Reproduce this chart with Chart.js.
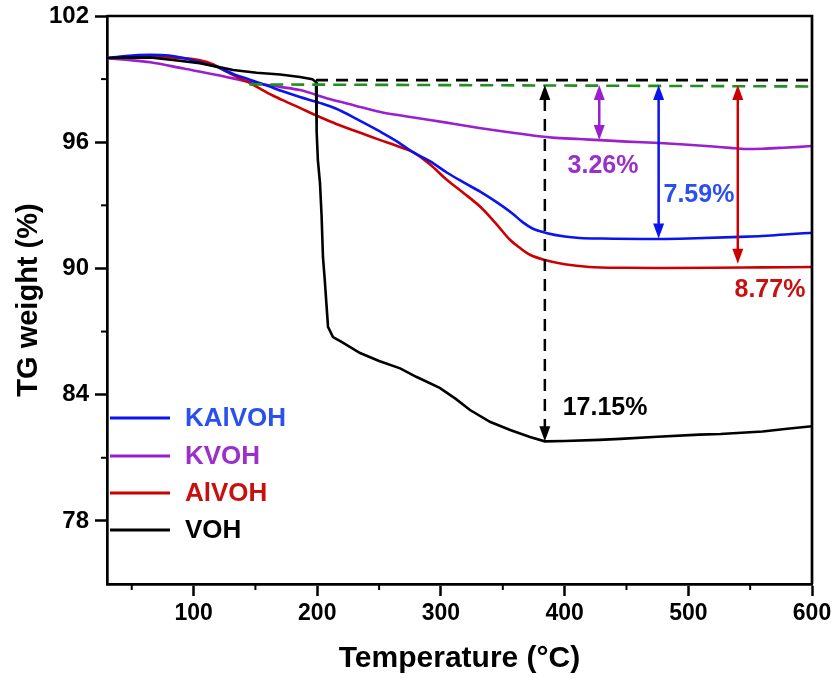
<!DOCTYPE html>
<html><head><meta charset="utf-8">
<script src="https://cdn.jsdelivr.net/npm/chart.js@4.4.0/dist/chart.umd.min.js"></script>
<style>html,body{margin:0;padding:0;background:#fff;overflow:hidden}</style>
</head><body>
<canvas id="c" width="837" height="681"></canvas>
<script>
// ---------------- data ----------------
const tKAlVOH = [30,45,65,80,92,105,119,132,146,160,172,186,202,215,232,251,265,277,291,305,318,332,345,358,366,374,385,400,412,430,477,500,542,570,600];
const wKAlVOH = [100,100.1,100.15,100.12,100.0,99.8,99.58,99.25,98.96,98.68,98.42,98.15,97.87,97.6,97.1,96.5,96.02,95.54,95.1,94.55,94.1,93.64,93.15,92.6,92.2,91.9,91.69,91.52,91.45,91.42,91.4,91.42,91.5,91.58,91.7];

const tKVOH = [30,45,65,92,119,146,170,186,210,230,251,270,291,310,331,352,372,390,412,428,450,477,500,520,534,546,560,574,590,600];
const wKVOH = [100,99.92,99.8,99.5,99.2,98.86,98.63,98.48,98.05,97.75,97.44,97.25,97.06,96.88,96.68,96.5,96.34,96.22,96.15,96.1,96.03,95.96,95.88,95.8,95.73,95.68,95.69,95.73,95.78,95.82];

const tAlVOH = [30,45,65,85,105,116,127,137,146,155,164,175,186,197,210,224,237,251,264,277,291,305,318,332,345,356,364,372,384,400,420,450,477,520,560,600];
const wAlVOH = [100,100.02,100.05,100.02,99.9,99.7,99.34,99.05,98.8,98.5,98.22,97.92,97.63,97.33,97.0,96.68,96.4,96.1,95.83,95.54,94.95,94.2,93.6,92.92,92.1,91.35,90.97,90.65,90.4,90.2,90.07,90.03,90.02,90.03,90.05,90.07];

const tVOH = [30,45,65,85,105,132,151,170,186,196,199,199.5,200.5,202.2,203.5,204.6,206,208.7,212.7,220,234.6,250,267,280,299,312,323.5,340,356,372,384,400,428,445,475,509,526,560,580,600];
const wVOH = [100,100.02,100.03,99.9,99.76,99.43,99.3,99.22,99.1,99.0,98.86,96.5,95.15,94.06,92.5,90.55,89.5,87.22,86.74,86.5,85.98,85.6,85.25,84.85,84.32,83.8,83.27,82.7,82.32,81.99,81.78,81.8,81.85,81.9,82.0,82.1,82.13,82.25,82.38,82.5];

// reference (dashed) lines
const tBlackRef = [199,600];   const wBlackRef = [98.95,98.95];
const tGreenRef = [145,600];   const wGreenRef = [98.75,98.65];

// mass-loss arrows
const arrowT      = [384, 428, 476, 540];
const arrowTop    = [98.72, 98.72, 98.72, 98.72];
const arrowBottom = [81.78, 96.1, 91.42, 90.22];

// annotation labels
const labelText = ['3.26%','7.59%','8.77%','17.15%'];
const labelT    = [431, 508.6, 566, 432.7];
const labelW    = [94.87, 93.49, 88.98, 83.37];

// axes
const xMajor = [100,200,300,400,500,600];
const xMinor = [50,150,250,350,450,550];
const yMajor = [78,84,90,96,102];
const yMinor = [81,87,93,99];
const seriesNames = ['KAlVOH','KVOH','AlVOH','VOH'];

// ---------------- styles ----------------
const FONT = "'Liberation Sans', Arial, Helvetica, sans-serif";
const colBlue = '#0a14ee', colPurple = '#9a1fcf', colRed = '#cc0000', colBlack = '#000000', colGreen = '#1f8f1f';
const txtBlue = '#2a50ee', txtPurple = '#9b2fcc', txtRed = '#c81010';
const seriesColors = [colBlue, colPurple, colRed, colBlack];
const seriesTextColors = [txtBlue, txtPurple, txtRed, '#000'];
const arrowColors = [colBlack, colPurple, colBlue, colRed];
const arrowDashed = [true, false, false, false];
const labelColors = [txtPurple, txtBlue, txtRed, '#000'];

const zip = (t, w) => t.map((v, i) => ({x: v, y: w[i]}));

const annot = {
  id: 'annot',
  afterDatasetsDraw(chart) {
    const {ctx, chartArea: a, scales: {x, y}} = chart;
    ctx.save();
    // arrows
    arrowT.forEach((tv, i) => {
      const px = x.getPixelForValue(tv);
      const py1 = y.getPixelForValue(arrowTop[i]);
      const py2 = y.getPixelForValue(arrowBottom[i]);
      const head = 15, hw = 5.5;
      ctx.strokeStyle = arrowColors[i];
      ctx.fillStyle = arrowColors[i];
      ctx.lineWidth = 2.5;
      ctx.setLineDash(arrowDashed[i] ? [12, 8] : []);
      ctx.beginPath();
      ctx.moveTo(px, py1 + head - 1);
      ctx.lineTo(px, py2 - head + 1);
      ctx.stroke();
      ctx.setLineDash([]);
      ctx.beginPath();
      ctx.moveTo(px, py1); ctx.lineTo(px - hw, py1 + head); ctx.lineTo(px + hw, py1 + head); ctx.closePath(); ctx.fill();
      ctx.beginPath();
      ctx.moveTo(px, py2); ctx.lineTo(px - hw, py2 - head); ctx.lineTo(px + hw, py2 - head); ctx.closePath(); ctx.fill();
    });
    // labels
    ctx.font = "bold 25px " + FONT;
    ctx.textAlign = 'center';
    ctx.textBaseline = 'middle';
    labelText.forEach((s, i) => {
      ctx.fillStyle = labelColors[i];
      ctx.fillText(s, x.getPixelForValue(labelT[i]), y.getPixelForValue(labelW[i]));
    });
    // legend
    const legOff = [166, 128, 91, 54];
    ctx.font = "bold 26px " + FONT;
    ctx.textAlign = 'left';
    seriesNames.forEach((n, i) => {
      const ly = a.bottom - legOff[i];
      ctx.strokeStyle = seriesColors[i];
      ctx.lineWidth = 3;
      ctx.beginPath(); ctx.moveTo(a.left + 3, ly); ctx.lineTo(a.left + 63, ly); ctx.stroke();
      ctx.fillStyle = seriesTextColors[i];
      ctx.fillText(n, a.left + 78, ly + 1);
    });
    // frame (top/right)
    ctx.strokeStyle = '#000';
    ctx.lineWidth = 2.7;
    ctx.beginPath();
    ctx.moveTo(a.left, a.top); ctx.lineTo(a.right, a.top); ctx.lineTo(a.right, a.bottom);
    ctx.stroke();
    // minor ticks
    ctx.lineWidth = 2;
    xMinor.forEach(v => { const p = x.getPixelForValue(v); ctx.beginPath(); ctx.moveTo(p, a.bottom); ctx.lineTo(p, a.bottom + 6); ctx.stroke(); });
    yMinor.forEach(v => { const p = y.getPixelForValue(v); ctx.beginPath(); ctx.moveTo(a.left, p); ctx.lineTo(a.left - 6, p); ctx.stroke(); });
    ctx.restore();
  }
};

const mk = (label, t, w, color, order, extra) => Object.assign({
  label, data: zip(t, w), borderColor: color, backgroundColor: color,
  borderWidth: 2.6, pointRadius: 0, fill: false, cubicInterpolationMode: 'monotone', order
}, extra || {});

new Chart(document.getElementById('c'), {
  type: 'line',
  data: {
    datasets: [
      mk('VOH', tVOH, wVOH, colBlack, 1, {tension: 0, cubicInterpolationMode: 'default'}),
      mk('KAlVOH', tKAlVOH, wKAlVOH, colBlue, 2),
      mk('AlVOH', tAlVOH, wAlVOH, colRed, 3),
      mk('KVOH', tKVOH, wKVOH, colPurple, 4),
      mk('ref1', tBlackRef, wBlackRef, colBlack, 0, {borderDash: [12, 8], tension: 0}),
      mk('ref2', tGreenRef, wGreenRef, colGreen, 0, {borderDash: [13, 8], tension: 0})
    ]
  },
  options: {
    responsive: false, animation: false, devicePixelRatio: 1,
    layout: {padding: {left: 0, right: 25, top: 16, bottom: 4}},
    plugins: {legend: {display: false}, tooltip: {enabled: false}},
    scales: {
      x: {
        type: 'linear', min: 30, max: 600,
        afterBuildTicks: s => { s.ticks = xMajor.map(v => ({value: v})); },
        afterFit: s => { s.height = 93; s.paddingLeft = 0; s.paddingRight = 0; },
        grid: {drawOnChartArea: false, drawTicks: true, tickLength: 12, tickWidth: 2.5, tickColor: '#000'},
        border: {display: true, color: '#000', width: 2.7},
        ticks: {color: '#000', font: {family: FONT, weight: 'bold', size: 23}, padding: 4, maxRotation: 0, autoSkip: false},
        title: {display: true, text: 'Temperature (°C)', color: '#000', font: {family: FONT, weight: 'bold', size: 30}, padding: {top: 0, bottom: 0}}
      },
      y: {
        type: 'linear', min: 75, max: 102,
        afterBuildTicks: s => { s.ticks = yMajor.map(v => ({value: v})); },
        afterFit: s => { s.width = 107; s.paddingTop = 0; s.paddingBottom = 0; },
        grid: {drawOnChartArea: false, drawTicks: true, tickLength: 12, tickWidth: 2.5, tickColor: '#000'},
        border: {display: true, color: '#000', width: 2.7},
        ticks: {color: '#000', font: {family: FONT, weight: 'bold', size: 24}, padding: 6},
        title: {display: true, text: 'TG weight (%)', color: '#000', font: {family: FONT, weight: 'bold', size: 29}, padding: {top: 12, bottom: 0}}
      }
    }
  },
  plugins: [annot]
});
</script>
</body></html>
